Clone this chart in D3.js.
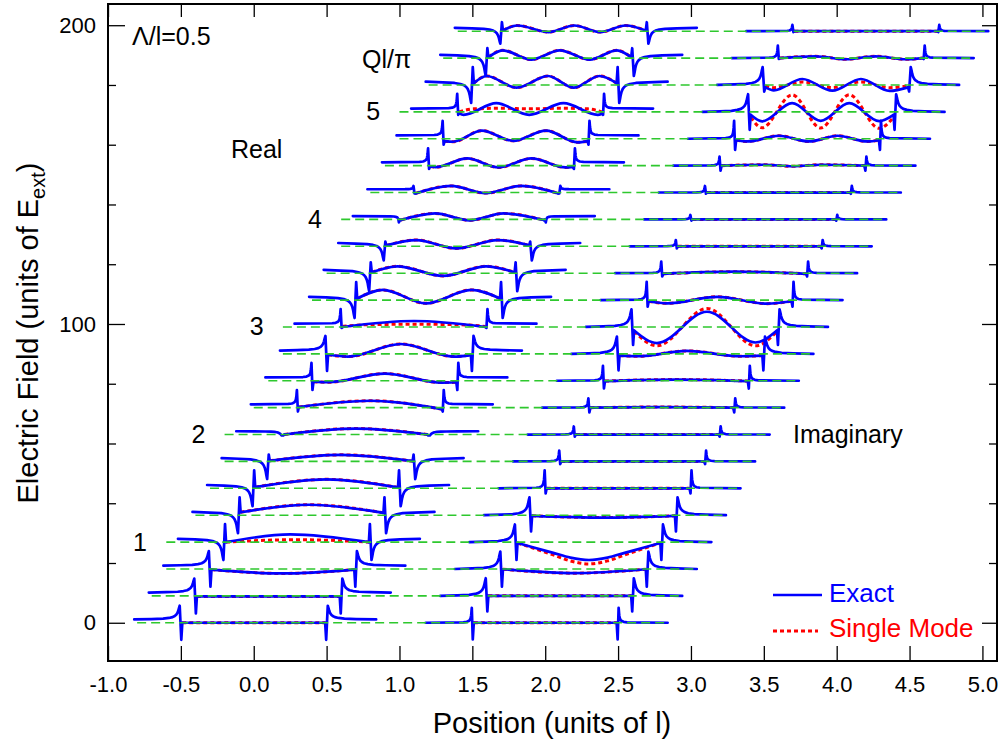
<!DOCTYPE html>
<html><head><meta charset="utf-8">
<script src="https://cdn.jsdelivr.net/npm/d3@7"></script>
<style>
body{margin:0;background:#fff}
svg{display:block}
text{font-family:"Liberation Sans",Arial,Helvetica,sans-serif}
</style>
</head><body>
<svg id="chart" width="1003" height="747"></svg>
<script>
// ---------------- data ----------------
const xTicks = [-1.0,-0.5,0.0,0.5,1.0,1.5,2.0,2.5,3.0,3.5,4.0,4.5,5.0];
const yMajorTicks = [0,100,200];
const yMinorTicks = [20,40,60,80,120,140,160,180];
const traceOffset = [0,9,18,27,36,45,54,63,72,81,90,99,108,117,126,135,144,153,162,171,180,189,198];
const realEdge = [-0.5,-0.4,-0.3,-0.2,-0.1,0.0,0.1,0.2,0.3,0.4,0.5,0.6,0.7,0.8,0.9,1.0,1.1,1.2,1.3,1.4,1.5,1.6,1.7];
const imagEdge = [1.5,1.6,1.7,1.8,1.9,2.0,2.1,2.2,2.3,2.4,2.5,2.6,2.7,2.8,2.9,3.0,3.1,3.2,3.3,3.4,3.5,3.6,3.7];
const qLabels = ["1","2","3","4","5"];
const qLabelTrace = [3,7,11,15,19];
const realOutside = 1.1;
const imagOutside = 0;

// field value at the tip just outside each edge and just inside it
const realTipOut = [5.7,5.8,6.0,-6.0,-6.0,-6.0,-5.9,-0.3,5.9,6.0,6.0,6.0,-6.0,-6.0,-4.7,-1.0,2.2,5.8,6.0,6.0,-6.0,-6.0,-4.2];
const realTipIn  = [-5.7,-5.9,-5.9,6.0,6.0,6.0,2.3,-0.3,-1.3,-3.1,-5.7,-0.3,6.0,3.6,1.6,0.0,-0.3,-1.1,-2.0,-1.0,6.0,3.3,3.0];
const realTail   = [1,1,1,1,1,1,1,1,0,0,1,0,1,1,1,0,0,0,0,0,1,1,1];
const imagTipOut = [5.0,5.9,5.8,5.9,6.0,6.0,3.6,2.7,3.1,5.0,5.8,5.9,6.1,3.9,2.1,1.5,2.2,3.0,6.0,5.9,6.0,4.2,2.1];
const imagTipIn  = [-5.6,-5.2,-5.9,-6.0,-5.4,-1.7,-0.9,-0.7,-1.6,-2.6,-5.5,-6.0,-2.2,-1.1,-0.7,-0.4,-0.4,-1.7,-3.7,-6.0,-2.2,-0.3,-0.3];
const imagTail   = [0,1,1,1,1,0,0,0,0,0,1,1,0,0,0,0,0,0,0,1,1,0,0];

// shape of the field tail approaching an edge: [distance, fraction of tip]
const edgeTail = [[0.20,0.03],[0.12,0.06],[0.08,0.11],[0.055,0.17],[0.04,0.25],[0.03,0.34],[0.022,0.47],[0.016,0.63],[0.011,0.83],[0.006,1.0]];

// interior field (exact): [fraction across slab, value]
const realInterior = [
 [[0,0],[1,0]],
 [[0,-0.2],[1,-0.2]],
 [[0,-0.2],[0.5,-1.5],[1,-0.2]],
 [[0,0],[0.45,2.6],[1,0]],
 [[0,1.0],[0.48,3.5],[1,0.8]],
 [[0,0.4],[0.5,3.0],[1,0.3]],
 [[0,0.2],[0.5,2.2],[1,0.1]],
 [[0,0],[0.5,2.0],[1,0]],
 [[0,0.2],[0.5,2.3],[1,-0.5]],
 [[0,-0.3],[0.1,-0.5],[0.5,2.4],[0.9,-0.6],[1,-0.5]],
 [[0,-0.3],[0.14,-0.9],[0.51,3.3],[0.88,-0.9],[1,-0.4]],
 [[0,0],[0.5,2.0],[1,0]],
 [[0,0.5],[0.18,3.4],[0.48,-1.1],[0.8,3.4],[1,0.5]],
 [[0,0.3],[0.18,2.3],[0.5,-0.9],[0.8,2.3],[1,0.3]],
 [[0,0.3],[0.21,2.1],[0.49,-0.7],[0.78,2.1],[1,0.3]],
 [[0,-0.2],[0.24,2.0],[0.48,-0.3],[0.72,2.0],[1,-0.2]],
 [[0,-0.3],[0.25,2.2],[0.49,-0.2],[0.74,2.2],[1,-0.3]],
 [[0,-0.3],[0.04,-0.5],[0.26,2.4],[0.48,-0.6],[0.71,2.4],[0.95,-0.6],[1,-0.4]],
 [[0,-0.8],[0.06,-1.0],[0.26,2.7],[0.48,-0.7],[0.71,2.7],[0.93,-1.2],[1,-0.8]],
 [[0,-0.5],[0.03,-1.0],[0.26,2.9],[0.49,-1.0],[0.73,2.9],[0.97,-1.0],[1,-0.6]],
 [[0,0.6],[0.09,3.0],[0.3,-0.9],[0.52,3.0],[0.7,-0.9],[0.88,3.0],[1,0.6]],
 [[0,0.3],[0.1,2.6],[0.3,-0.5],[0.5,2.6],[0.71,-0.5],[0.9,2.6],[1,0.3]],
 [[0,0.2],[0.1,1.9],[0.32,-0.3],[0.5,1.9],[0.68,-0.3],[0.86,1.9],[1,0.2]]
];
const imagInterior = [
 [[0,0],[1,0]],
 [[0,0],[1,0]],
 [[0,-0.1],[0.5,-1.4],[1,-0.1]],
 [[0,-0.3],[0.12,-1.9],[0.25,-3.6],[0.37,-5.2],[0.5,-6.0],[0.63,-5.2],[0.75,-3.6],[0.88,-1.9],[1,-0.3]],
 [[0,-0.2],[0.5,-0.8],[1,-0.2]],
 [[0,0],[1,0]],
 [[0,0],[1,0]],
 [[0,0],[1,0]],
 [[0,0],[0.5,0.2],[1,0]],
 [[0,-0.1],[0.5,0.4],[1,-0.1]],
 [[0,-0.6],[0.13,-0.8],[0.47,1.0],[0.85,-0.8],[1,-0.6]],
 [[0,-1.2],[0.16,-5.4],[0.51,5.1],[0.85,-5.2],[1,-1.2]],
 [[0,-0.4],[0.13,-1.1],[0.48,1.1],[0.83,-1.2],[1,-0.4]],
 [[0,-0.2],[0.5,0.5],[1,-0.2]],
 [[0,0],[1,0]],
 [[0,0],[1,0]],
 [[0,0],[1,0]],
 [[0,0],[0.3,0.3],[0.5,-0.2],[0.7,0.3],[1,0]],
 [[0,-0.5],[0.08,-0.9],[0.3,1.0],[0.51,-0.9],[0.71,1.0],[0.92,-0.9],[1,-0.5]],
 [[0,-1.0],[0.08,-3.2],[0.29,2.9],[0.49,-3.0],[0.69,2.9],[0.9,-3.1],[1,-1.0]],
 [[0,-0.8],[0.06,-1.8],[0.26,2.0],[0.47,-1.9],[0.67,2.0],[0.87,-2.0],[1,-0.8]],
 [[0,0],[0.25,0.6],[0.46,-0.4],[0.67,0.6],[0.88,-0.4],[1,0]],
 [[0,0],[1,0]]
];
// single-mode approximation where it departs from the exact curve (others coincide)
const realSingleMode = {
 3: [[0,0],[0.5,0.8],[1,0]],
 11: [[0,0.2],[0.2,0.8],[0.5,0.9],[0.8,0.8],[1,0.2]],
 19: [[0,0],[0.1,1.0],[0.3,1.2],[0.5,1.0],[0.7,1.2],[0.9,1.0],[1,0]]
};
const imagSingleMode = {
 3: [[0,-0.3],[0.12,-2.2],[0.25,-4.3],[0.37,-6.3],[0.5,-7.3],[0.63,-6.3],[0.75,-4.3],[0.88,-2.2],[1,-0.3]],
 11: [[0,-1.5],[0.16,-6.3],[0.51,6.2],[0.85,-6.3],[1,-1.5]],
 19: [[0,-1.8],[0.08,-5.3],[0.29,5.7],[0.49,-5.4],[0.69,5.7],[0.9,-5.5],[1,-1.8]],
 20: [[0,-0.3],[0.06,-0.9],[0.26,1.0],[0.47,-0.9],[0.67,1.0],[0.87,-0.9],[1,-0.3]]
};

// ---------------- drawing ----------------
const BLUE = "#0000ff", RED = "#ff0000", GREEN = "#2ec82e";
const svg = d3.select("#chart");
const L = 108, R = 997, T = 4, B = 661;
const x = d3.scaleLinear().domain([-1, 5.1]).range([L, R]);
const y = d3.scaleLinear().domain([-12.8, 207.1]).range([B, T]);

const lin = d3.line().x(d => x(d[0])).y(d => y(d[1]));
const smooth = d3.line().x(d => x(d[0])).y(d => y(d[1])).curve(d3.curveMonotoneX);

const gGreen = svg.append("g"), gRed = svg.append("g"), gBlue = svg.append("g"), gGreenTop = svg.append("g");

function interiorPts(xL, base, pts) {
  return pts.map(p => [xL + 0.010 + p[0] * 0.98, base + p[1]]);
}
function drawPart(xL, base, out, tipOut, tipIn, tail, interior, single) {
  const xR = xL + 1;
  const wf = tail ? 1 : 0.3;
  const inner = interiorPts(xL, base, interior);
  const left = [[xL - 0.32, base + out]];
  edgeTail.forEach(([dd, f]) => left.push([xL - dd * wf - 0.002, base + out + (tipOut - out) * f]));
  left.push([xL + 0.003, base + tipIn]);
  left.push(inner[0]);
  const right = [inner[inner.length - 1], [xR - 0.003, base + tipIn]];
  edgeTail.slice().reverse().forEach(([dd, f]) => right.push([xR + dd * wf + 0.002, base + out + (tipOut - out) * f]));
  right.push([xR + 0.34, base + out]);

  const sm = interiorPts(xL, base, single || interior);
  gRed.append("path").attr("d", smooth(sm)).attr("fill", "none")
    .attr("stroke", RED).attr("stroke-width", 3).attr("stroke-dasharray", "4,3");

  [lin(left), smooth(inner), lin(right)].forEach(d =>
    gBlue.append("path").attr("d", d).attr("fill", "none").attr("stroke", BLUE)
      .attr("stroke-width", 2.7).attr("stroke-linejoin", "round").attr("stroke-linecap", "round"));
}

traceOffset.forEach((base, k) => {
  const labelled = qLabelTrace.includes(k);
  gGreenTop.append("path")
    .attr("d", lin([[realEdge[k] - (labelled ? 0.4 : 0.3), base], [imagEdge[k] + 1.34, base]]))
    .attr("stroke", GREEN).attr("stroke-width", 1.6).attr("stroke-dasharray", "9,5").attr("fill", "none");
  drawPart(realEdge[k], base, realOutside, realTipOut[k], realTipIn[k], realTail[k], realInterior[k], realSingleMode[k]);
  drawPart(imagEdge[k], base, imagOutside, imagTipOut[k], imagTipIn[k], imagTail[k], imagInterior[k], imagSingleMode[k]);
});

// axes
const axisStyle = g => { g.select(".domain").remove(); g.selectAll("line").attr("stroke", "#000").attr("stroke-width", 1.3); };
svg.append("g").attr("transform", `translate(0,${B})`)
  .call(d3.axisBottom(x).tickValues(xTicks).tickSize(-15).tickPadding(15).tickFormat(d => d.toFixed(1)))
  .call(axisStyle)
  .call(g => g.selectAll("text").attr("font-size", 22).attr("fill", "#000").style("font-family", "Liberation Sans, Arial, sans-serif"));
svg.append("g").attr("transform", `translate(0,${T})`)
  .call(d3.axisTop(x).tickValues(xTicks).tickSize(-13).tickFormat(""))
  .call(axisStyle);
svg.append("g").attr("transform", `translate(${L},0)`)
  .call(d3.axisLeft(y).tickValues(yMajorTicks).tickSize(-17).tickPadding(12).tickFormat(d3.format("d")))
  .call(axisStyle)
  .call(g => g.selectAll("text").attr("font-size", 22).attr("fill", "#000").style("font-family", "Liberation Sans, Arial, sans-serif"));
svg.append("g").attr("transform", `translate(${L},0)`)
  .call(d3.axisLeft(y).tickValues(yMinorTicks).tickSize(-8).tickFormat(""))
  .call(axisStyle);
svg.append("g").attr("transform", `translate(${R},0)`)
  .call(d3.axisRight(y).tickValues(yMajorTicks).tickSize(-15).tickFormat(""))
  .call(axisStyle);
svg.append("g").attr("transform", `translate(${R},0)`)
  .call(d3.axisRight(y).tickValues(yMinorTicks).tickSize(-8).tickFormat(""))
  .call(axisStyle);
svg.append("rect").attr("x", L).attr("y", T).attr("width", R - L).attr("height", B - T)
  .attr("fill", "none").attr("stroke", "#000").attr("stroke-width", 2);

// axis titles
svg.append("text").attr("x", 552).attr("y", 733).attr("text-anchor", "middle")
  .attr("font-size", 29).text("Position (units of l)");
const yt = svg.append("text").attr("transform", "translate(38,333) rotate(-90)")
  .attr("text-anchor", "middle").attr("font-size", 29);
yt.append("tspan").text("Electric Field (units of E");
yt.append("tspan").attr("font-size", 20).attr("dy", 7).text("ext");
yt.append("tspan").attr("dy", -7).text(")");

// annotations
svg.append("text").attr("x", 132).attr("y", 45).attr("font-size", 25).text("\u039B/l=0.5");
svg.append("text").attr("x", 362).attr("y", 68).attr("font-size", 25).text("Ql/\u03C0");
svg.append("text").attr("x", 231).attr("y", 158).attr("font-size", 25).text("Real");
svg.append("text").attr("x", 793).attr("y", 443).attr("font-size", 25).text("Imaginary");
qLabelTrace.forEach((k, i) => {
  svg.append("text").attr("x", x(realEdge[k] - 0.58)).attr("y", y(traceOffset[k]) + 8.5)
    .attr("text-anchor", "middle").attr("font-size", 25).text(qLabels[i]);
});

// legend
svg.append("line").attr("x1", 773).attr("x2", 822).attr("y1", 595).attr("y2", 595)
  .attr("stroke", BLUE).attr("stroke-width", 2.7);
svg.append("line").attr("x1", 773).attr("x2", 818).attr("y1", 631).attr("y2", 631)
  .attr("stroke", RED).attr("stroke-width", 3).attr("stroke-dasharray", "4,3");
svg.append("text").attr("x", 829).attr("y", 602).attr("font-size", 26).attr("fill", BLUE).text("Exact");
svg.append("text").attr("x", 829).attr("y", 637).attr("font-size", 26).attr("fill", RED).text("Single Mode");
</script>
</body></html>
